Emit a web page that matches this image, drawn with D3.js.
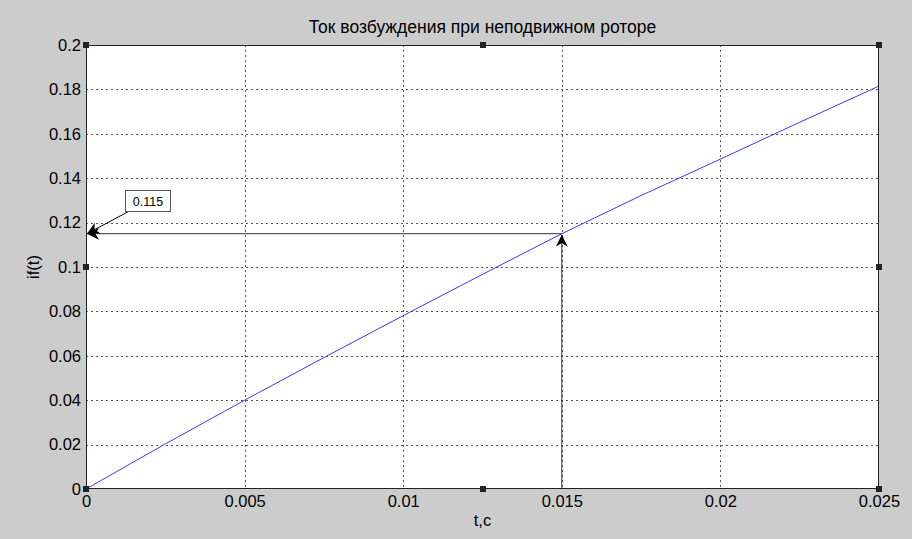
<!DOCTYPE html>
<html>
<head>
<meta charset="utf-8">
<script src="https://cdn.jsdelivr.net/npm/d3@7/dist/d3.min.js"></script>
<style>
  html, body { margin: 0; padding: 0; background: #cccccc; }
  svg { display: block; }
  text { font-family: "Liberation Sans", Arial, sans-serif; fill: #000; }
</style>
</head>
<body>
<svg id="chart" width="912" height="539"></svg>
<script>
// Time samples, s
const timeValues = [0, 0.0025, 0.005, 0.0075, 0.01, 0.0125, 0.015, 0.0175, 0.02, 0.0225, 0.025];
// Excitation current if(t)
const currentValues = [0, 0.0203, 0.0400, 0.0592, 0.0781, 0.0967, 0.1150, 0.1322, 0.1486, 0.1652, 0.1815];
const xTicks = [0, 0.005, 0.01, 0.015, 0.02, 0.025];
const xTickLabels = ["0", "0.005", "0.01", "0.015", "0.02", "0.025"];
const yTicks = [0, 0.02, 0.04, 0.06, 0.08, 0.1, 0.12, 0.14, 0.16, 0.18, 0.2];
const yTickLabels = ["0", "0.02", "0.04", "0.06", "0.08", "0.1", "0.12", "0.14", "0.16", "0.18", "0.2"];
// Marked point
const markT = [0.015];
const markValue = [0.115];
const markLabel = ["0.115"];

const titleText = "Ток возбуждения при неподвижном роторе";
const xLabel = "t,c";
const yLabel = "if(t)";

const svg = d3.select("#chart");
const plotLeft = 86, plotRight = 879, plotTop = 45, plotBottom = 489;

const x = d3.scaleLinear().domain([0, 0.025]).range([plotLeft, plotRight]);
const y = d3.scaleLinear().domain([0, 0.2]).range([plotBottom, plotTop]);

// Axes box background
svg.append("rect")
  .attr("x", plotLeft).attr("y", plotTop)
  .attr("width", plotRight - plotLeft).attr("height", plotBottom - plotTop)
  .attr("fill", "#ffffff");

// Grid
const grid = svg.append("g").attr("stroke", "#555").attr("stroke-width", 1)
  .attr("stroke-dasharray", "2,3").attr("shape-rendering", "crispEdges");
xTicks.slice(1, -1).forEach(t => {
  grid.append("line").attr("x1", Math.round(x(t)) + 0.5).attr("x2", Math.round(x(t)) + 0.5)
    .attr("y1", plotTop).attr("y2", plotBottom);
});
yTicks.slice(1, -1).forEach(v => {
  grid.append("line").attr("y1", Math.round(y(v)) + 0.5).attr("y2", Math.round(y(v)) + 0.5)
    .attr("x1", plotLeft).attr("x2", plotRight);
});

// Curve
const line = d3.line().x((d, i) => x(timeValues[i])).y(d => y(d));
svg.append("path").datum(currentValues)
  .attr("d", line).attr("fill", "none")
  .attr("stroke", "#3a3aff").attr("stroke-width", 1);

// Arrows
const defs = svg.append("defs");
defs.append("marker").attr("id", "arrowHead")
  .attr("viewBox", "0 0 10 10").attr("refX", 10).attr("refY", 5)
  .attr("markerWidth", 12).attr("markerHeight", 12).attr("markerUnits", "userSpaceOnUse")
  .attr("orient", "auto")
  .append("path").attr("d", "M0,0 L10,5 L0,10 L3,5 Z").attr("fill", "#000");

const px = x(markT[0]), py = y(markValue[0]);
// horizontal arrow towards the y axis
svg.append("line").attr("x1", px).attr("y1", py).attr("x2", plotLeft + 1).attr("y2", py)
  .attr("stroke", "#333").attr("stroke-width", 1).attr("marker-end", "url(#arrowHead)");
// vertical arrow up from the x axis
svg.append("line").attr("x1", px).attr("y1", plotBottom).attr("x2", px).attr("y2", py + 1)
  .attr("stroke", "#333").attr("stroke-width", 1).attr("marker-end", "url(#arrowHead)");

// Text box with its arrow
const boxX = 125.5, boxY = 190.5, boxW = 45, boxH = 21;
svg.append("line").attr("x1", boxX + 3).attr("y1", boxY + boxH).attr("x2", plotLeft + 1).attr("y2", py)
  .attr("stroke", "#000").attr("stroke-width", 1).attr("marker-end", "url(#arrowHead)");
svg.append("rect").attr("x", boxX).attr("y", boxY).attr("width", boxW).attr("height", boxH)
  .attr("fill", "#fff").attr("stroke", "#555").attr("stroke-width", 1);
svg.append("text").attr("x", boxX + boxW / 2).attr("y", boxY + 15)
  .attr("text-anchor", "middle").style("font-size", "12.5px").text(markLabel[0]);

// Axes frame
svg.append("rect")
  .attr("x", plotLeft + 0.5).attr("y", plotTop + 0.5)
  .attr("width", plotRight - plotLeft - 1).attr("height", plotBottom - plotTop - 1)
  .attr("fill", "none").attr("stroke", "#222").attr("stroke-width", 1)
  .attr("shape-rendering", "crispEdges");

// Tick labels
const xAxis = d3.axisBottom(x).tickValues(xTicks).tickSize(0).tickPadding(6)
  .tickFormat((d, i) => xTickLabels[i]);
const gx = svg.append("g").attr("transform", `translate(0,${plotBottom})`).call(xAxis);
gx.select(".domain").remove();
gx.selectAll("text").style("font-size", "16.5px").style("font-family", "Liberation Sans, Arial, sans-serif");

const yAxis = d3.axisLeft(y).tickValues(yTicks).tickSize(0).tickPadding(5)
  .tickFormat((d, i) => yTickLabels[i]);
const gy = svg.append("g").attr("transform", `translate(${plotLeft},0)`).call(yAxis);
gy.select(".domain").remove();
gy.selectAll("text").style("font-size", "16.5px").style("font-family", "Liberation Sans, Arial, sans-serif");

// Selection handles
const handleX = [plotLeft, (plotLeft + plotRight) / 2, plotRight];
const handleY = [plotTop, (plotTop + plotBottom) / 2, plotBottom];
handleX.forEach((hx, i) => handleY.forEach((hy, j) => {
  if (i === 1 && j === 1) return;
  svg.append("rect").attr("x", Math.round(hx) - 3).attr("y", Math.round(hy) - 3)
    .attr("width", 6).attr("height", 6).attr("fill", "#222");
}));

// Titles
svg.append("text").attr("x", (plotLeft + plotRight) / 2).attr("y", 33)
  .attr("text-anchor", "middle").style("font-size", "17.5px").text(titleText);
svg.append("text").attr("x", (plotLeft + plotRight) / 2).attr("y", 526)
  .attr("text-anchor", "middle").style("font-size", "16.5px").text(xLabel);
svg.append("text").attr("transform", `translate(39,${(plotTop + plotBottom) / 2}) rotate(-90)`)
  .attr("text-anchor", "middle").style("font-size", "16.5px").text(yLabel);
</script>
</body>
</html>
